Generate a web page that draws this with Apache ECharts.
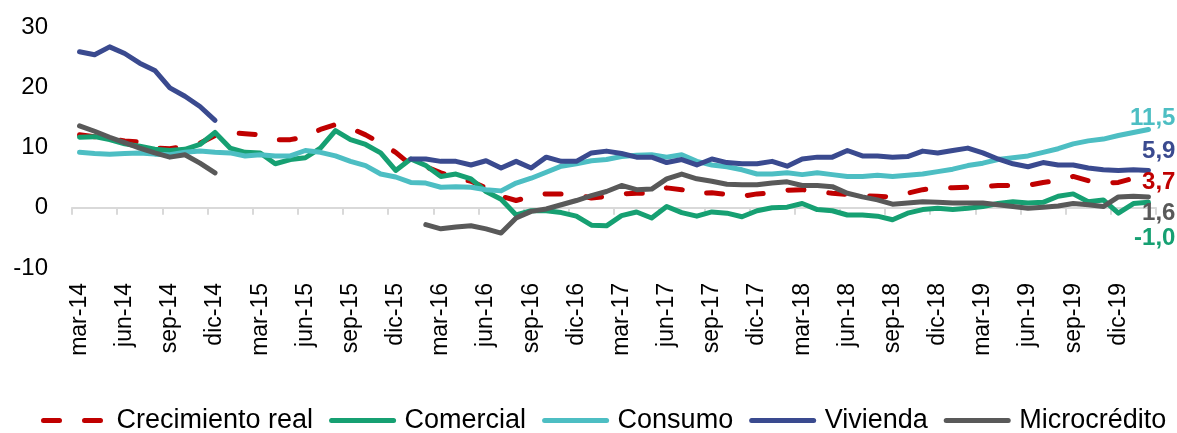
<!DOCTYPE html>
<html>
<head>
<meta charset="utf-8">
<script src="https://cdn.jsdelivr.net/npm/echarts@6/dist/echarts.min.js"></script>
<style>
  html, body { margin: 0; padding: 0; background: #fff; }
  #chart { width: 1177px; height: 433px; }
</style>
</head>
<body>
<div id="chart"></div>
<script>
// meses mar-14 .. feb-20
var monthNames = ['ene', 'feb', 'mar', 'abr', 'may', 'jun', 'jul', 'ago', 'sep', 'oct', 'nov', 'dic']
var months = []
for (var k = 0; k < 72; k++) {
  var m = (2 + k) % 12
  var y = 14 + Math.floor((2 + k) / 12)
  months.push(monthNames[m] + '-' + y)
}

var crecimientoReal = [12.1, 11.8, 11.5, 11.1, 10.9, 9.9, 9.8, 10.2, 10.7, 12.0, 12.5, 12.3, 12.1, 11.3, 11.3, 11.8, 13.0, 13.8,
  13.2, 12.1, 10.7, 9.2, 7.1, 6.8, 5.8, 4.9, 4.4, 3.3, 1.9, 1.2, 1.9, 2.3, 2.3, 2.2, 1.6, 1.9,
  2.3, 2.4, 2.4, 3.3, 3.0, 2.3, 2.5, 2.2, 1.9, 2.3, 2.5, 2.9, 3.0, 2.7, 2.4, 2.2, 2.0, 1.9,
  1.8, 2.4, 3.0, 3.3, 3.3, 3.4, 3.5, 3.7, 3.7, 3.7, 4.2, 4.5, 5.2, 4.5, 4.1, 4.2, 4.9, 5.0]

var comercial = [11.7, 11.8, 11.3, 10.6, 10.2, 9.7, 9.5, 9.7, 10.5, 12.5, 9.9, 9.2, 9.1, 7.3, 8.0, 8.3, 9.9, 12.8,
  11.3, 10.5, 9.1, 6.2, 8.1, 7.0, 5.2, 5.6, 4.8, 2.7, 1.4, -1.2, -0.5, -0.5, -0.8, -1.4, -2.9, -3.0,
  -1.3, -0.7, -1.7, 0.2, -0.8, -1.4, -0.7, -0.9, -1.5, -0.5, 0.0, 0.1, 0.7, -0.3, -0.5, -1.2, -1.2, -1.4,
  -2.0, -0.9, -0.3, -0.1, -0.3, -0.1, 0.2, 0.7, 1.0, 0.8, 0.9, 1.9, 2.3, 1.0, 1.3, -0.9, 0.7, 0.9]

var consumo = [9.2, 9.0, 8.9, 9.0, 9.1, 8.9, 8.8, 9.2, 9.4, 9.2, 9.1, 8.6, 8.8, 8.6, 8.6, 9.5, 9.2, 8.6,
  7.7, 7.0, 5.6, 5.1, 4.2, 4.1, 3.4, 3.5, 3.4, 3.0, 2.8, 4.1, 4.9, 5.9, 6.9, 7.3, 7.8, 8.0,
  8.5, 8.7, 8.8, 8.4, 8.8, 7.7, 7.1, 6.8, 6.3, 5.6, 5.6, 5.8, 5.5, 5.8, 5.5, 5.2, 5.2, 5.4,
  5.2, 5.4, 5.6, 6.0, 6.4, 7.0, 7.4, 8.0, 8.3, 8.6, 9.2, 9.8, 10.6, 11.1, 11.4, 12.0, 12.5, 13.0]

var vivienda = [25.9, 25.4, 26.7, 25.6, 24.0, 22.8, 19.9, 18.5, 16.8, 14.5, null, null, null, null, null, null, null, null,
  null, null, null, null, 8.1, 8.1, 7.7, 7.7, 7.1, 7.8, 6.6, 7.7, 6.6, 8.4, 7.7, 7.7, 9.1, 9.4,
  9.0, 8.4, 8.4, 7.5, 8.0, 7.1, 8.1, 7.5, 7.3, 7.3, 7.7, 6.9, 8.1, 8.4, 8.4, 9.5, 8.6, 8.6,
  8.4, 8.5, 9.4, 9.1, 9.5, 9.9, 9.1, 8.1, 7.3, 6.8, 7.5, 7.1, 7.1, 6.6, 6.3, 6.2, 6.3, 6.2]

var microcredito = [13.6, 12.7, 11.7, 10.8, 9.9, 9.1, 8.4, 8.8, 7.4, 5.8, null, null, null, null, null, null, null, null,
  null, null, null, null, null, -2.8, -3.5, -3.2, -3.0, -3.5, -4.2, -1.7, -0.6, -0.2, 0.5, 1.2, 2.0, 2.7,
  3.7, 3.0, 3.1, 4.8, 5.6, 4.8, 4.4, 3.9, 3.8, 3.8, 4.1, 4.3, 3.7, 3.7, 3.5, 2.4, 1.8, 1.3,
  0.6, 0.8, 1.0, 0.9, 0.8, 0.8, 0.8, 0.5, 0.2, -0.1, 0.1, 0.3, 0.7, 0.5, 0.2, 1.8, 1.9, 1.8]

var seriesNames = ['Crecimiento real', 'Comercial', 'Consumo', 'Vivienda', 'Microcrédito']
var endLabels = ['3,7', '-1,0', '11,5', '5,9', '1,6']
var yTicks = [-10, 0, 10, 20, 30]

var FONT = "'Liberation Sans', Arial, sans-serif"
var colors = ['#C00000', '#16A072', '#4DBEC3', '#3A4A8F', '#595959']
var labelDy = [5, 36, -11, -19, 16]
var dataList = [crecimientoReal, comercial, consumo, vivienda, microcredito]

var chart = echarts.init(document.getElementById('chart'))

var series = seriesNames.map(function (name, i) {
  return {
    name: name,
    type: 'line',
    data: dataList[i],
    xAxisIndex: 0,
    symbol: 'none',
    connectNulls: false,
    animation: false,
    lineStyle: {
      color: colors[i],
      width: 5,
      type: i === 0 ? [16, 25] : 'solid',
      cap: 'round',
      join: 'round'
    },
    itemStyle: { color: colors[i] },
    endLabel: {
      show: true,
      formatter: function () { return endLabels[i] },
      color: colors[i],
      fontFamily: FONT,
      fontSize: 24,
      fontWeight: 'bold',
      align: 'right',
      verticalAlign: 'middle',
      offset: [19, labelDy[i]]
    }
  }
})

var option = {
  backgroundColor: '#fff',
  animation: false,
  grid: {
    left: 72,
    right: 21,
    top: 27,
    bottom: 165,
    containLabel: false
  },
  legend: {
    data: seriesNames,
    top: 402,
    left: 36,
    itemWidth: 62,
    itemHeight: 14,
    itemGap: 16,
    itemStyle: { opacity: 0 },
    lineStyle: { width: 5, cap: 'round' },
    textStyle: { fontFamily: FONT, fontSize: 27, color: '#000', padding: [0, 0, 0, 6] }
  },
  xAxis: [{
    // linea en cero con marcas
    type: 'category',
    data: months,
    boundaryGap: true,
    axisLine: { onZero: true, lineStyle: { color: '#D9D9D9', width: 2 } },
    axisTick: { show: true, interval: 2, length: 7, lineStyle: { color: '#D9D9D9', width: 2 } },
    axisLabel: { show: false },
    splitLine: { show: false }
  }, {
    // etiquetas abajo
    type: 'category',
    data: months,
    boundaryGap: true,
    position: 'bottom',
    axisLine: { show: false, onZero: false },
    axisTick: { show: false },
    axisLabel: {
      interval: 2,
      rotate: 90,
      margin: 15,
      color: '#000',
      fontFamily: FONT,
      fontSize: 23
    },
    splitLine: { show: false }
  }],
  yAxis: {
    type: 'value',
    min: yTicks[0],
    max: yTicks[yTicks.length - 1],
    interval: 10,
    axisLine: { show: false },
    axisTick: { show: false },
    splitLine: { show: false },
    axisLabel: { color: '#000', fontFamily: FONT, fontSize: 24, margin: 24 }
  },
  series: series
}

chart.setOption(option)
</script>
</body>
</html>
